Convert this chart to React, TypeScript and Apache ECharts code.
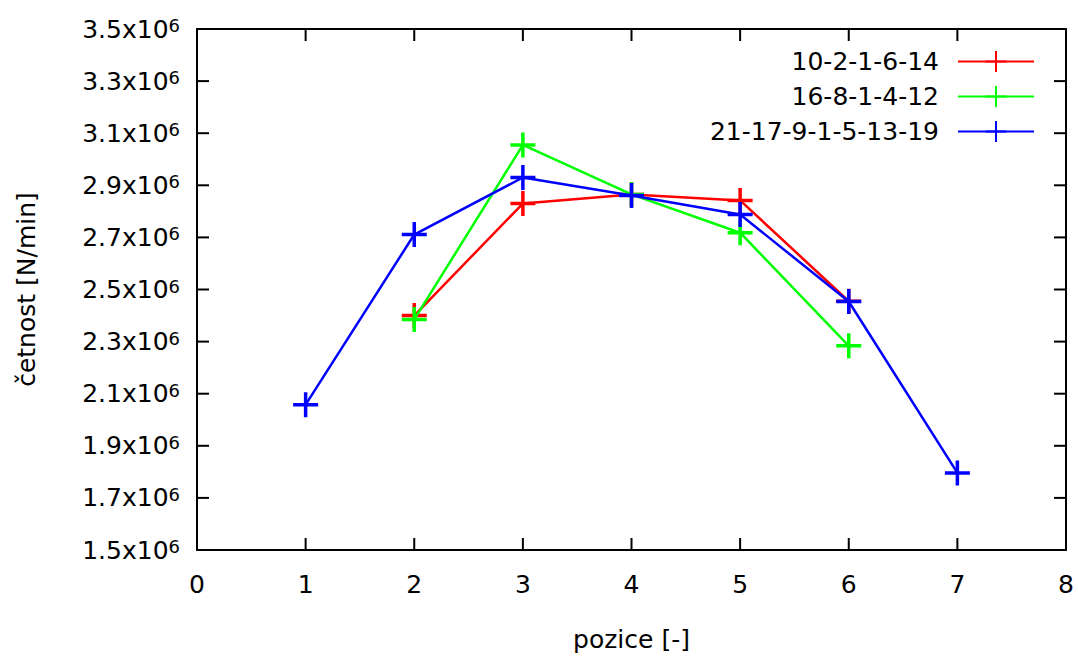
import React, { useEffect, useRef } from "react";
import * as echarts from "echarts";

// Positions along the x axis and measured rates (N/min) for each configuration
const positionsA = [2, 3, 4, 5, 6];
const valuesA = [2.4e6, 2.83e6, 2.865e6, 2.842e6, 2.455e6];

const positionsB = [2, 3, 4, 5, 6];
const valuesB = [2.385e6, 3.055e6, 2.865e6, 2.718e6, 2.284e6];

const positionsC = [1, 2, 3, 4, 5, 6, 7];
const valuesC = [2.058e6, 2.711e6, 2.93e6, 2.861e6, 2.788e6, 2.454e6, 1.796e6];

const seriesNames = ["10-2-1-6-14", "16-8-1-4-12", "21-17-9-1-5-13-19"];
const seriesColors = ["#ff0000", "#00ff00", "#0000ff"];

const xTicks = [0, 1, 2, 3, 4, 5, 6, 7, 8];
const yTicks = [1.5e6, 1.7e6, 1.9e6, 2.1e6, 2.3e6, 2.5e6, 2.7e6, 2.9e6, 3.1e6, 3.3e6, 3.5e6];

const X_MIN = 0;
const X_MAX = 8;
const Y_MIN = 1.5e6;
const Y_MAX = 3.5e6;

const FONT = "DejaVu Sans";
const FS = 25;
const PLUS = "path://M12 0 L12 24 M0 12 L24 12";
const TICK_LEN = 12;

const zip = (xs: number[], ys: number[]) => xs.map((x, i) => [x, ys[i]]);

export default function App() {
  const ref = useRef<HTMLDivElement>(null);

  useEffect(() => {
    if (!ref.current) return;
    const chart = echarts.init(ref.current, undefined, { renderer: "svg" });

    const frameLine = { show: true, onZero: false, lineStyle: { color: "#000", width: 2 } };
    const tickLineStyle = { stroke: "#000", lineWidth: 2 };

    const xBase = { type: "value", min: X_MIN, max: X_MAX, interval: 1, splitLine: { show: false } };
    const yBase = { type: "value", min: Y_MIN, max: Y_MAX, splitLine: { show: false } };

    const data = [zip(positionsA, valuesA), zip(positionsB, valuesB), zip(positionsC, valuesC)];
    const legendTops = [49, 84, 119];

    // inward-pointing tick marks on all four sides of the frame
    const xTickSeries = {
      type: "custom",
      coordinateSystem: "cartesian2d",
      xAxisIndex: 0,
      yAxisIndex: 0,
      silent: true,
      z: 10,
      data: xTicks.map((v) => [v, Y_MIN]),
      renderItem: (_p: any, api: any) => {
        const bottom = api.coord([api.value(0), Y_MIN]);
        const top = api.coord([api.value(0), Y_MAX]);
        return {
          type: "group",
          children: [
            { type: "line", shape: { x1: bottom[0], y1: bottom[1], x2: bottom[0], y2: bottom[1] - TICK_LEN }, style: tickLineStyle },
            { type: "line", shape: { x1: top[0], y1: top[1], x2: top[0], y2: top[1] + TICK_LEN }, style: tickLineStyle },
          ],
        };
      },
    };
    const yTickSeries = {
      type: "custom",
      coordinateSystem: "cartesian2d",
      xAxisIndex: 0,
      yAxisIndex: 0,
      silent: true,
      z: 10,
      data: yTicks.map((v) => [X_MIN, v]),
      renderItem: (_p: any, api: any) => {
        const left = api.coord([X_MIN, api.value(1)]);
        const right = api.coord([X_MAX, api.value(1)]);
        return {
          type: "group",
          children: [
            { type: "line", shape: { x1: left[0], y1: left[1], x2: left[0] + TICK_LEN, y2: left[1] }, style: tickLineStyle },
            { type: "line", shape: { x1: right[0], y1: right[1], x2: right[0] - TICK_LEN, y2: right[1] }, style: tickLineStyle },
          ],
        };
      },
    };

    chart.setOption({
      animation: false,
      backgroundColor: "#fff",
      textStyle: { fontFamily: FONT, color: "#000" },
      grid: { left: 197, right: 12, top: 29, bottom: 106 },
      legend: seriesNames.map((name, i) => ({
        data: [name],
        orient: "vertical",
        right: 43,
        top: legendTops[i],
        align: "right",
        itemWidth: 76,
        itemHeight: 26,
        padding: 0,
        selectedMode: false,
        textStyle: { fontFamily: FONT, fontSize: FS, color: "#000", padding: [0, 14, 0, 0] },
      })),
      xAxis: [
        {
          ...xBase,
          position: "bottom",
          name: "pozice [-]",
          nameLocation: "middle",
          nameGap: 77,
          nameTextStyle: { fontFamily: FONT, fontSize: FS, color: "#000" },
          axisLine: frameLine,
          axisTick: { show: false },
          axisLabel: { fontFamily: FONT, fontSize: FS, color: "#000", margin: 22 },
        },
        {
          ...xBase,
          position: "top",
          axisLine: frameLine,
          axisTick: { show: false },
          axisLabel: { show: false },
        },
      ],
      yAxis: [
        {
          ...yBase,
          position: "left",
          name: "četnost [N/min]",
          nameLocation: "middle",
          nameGap: 158,
          nameTextStyle: { fontFamily: FONT, fontSize: FS, color: "#000" },
          axisLine: frameLine,
          axisTick: { show: false },
          axisLabel: {
            customValues: yTicks,
            margin: 17,
            formatter: (v: number) => `{a|${(v / 1e6).toFixed(1)}x10}{b|6}`,
            rich: {
              a: { fontFamily: FONT, fontSize: FS, color: "#000", verticalAlign: "bottom", lineHeight: 25 },
              b: {
                fontFamily: FONT,
                fontSize: 18,
                color: "#000",
                verticalAlign: "top",
                lineHeight: 18,
                padding: [0, 0, 15, 0],
              },
            },
          },
        },
        {
          ...yBase,
          position: "right",
          axisLine: frameLine,
          axisTick: { show: false },
          axisLabel: { show: false },
        },
      ],
      series: [
        xTickSeries,
        yTickSeries,
        ...seriesNames.map((name, i) => ({
          name,
          type: "line",
          xAxisIndex: 0,
          yAxisIndex: 0,
          data: data[i],
          symbol: PLUS,
          symbolSize: 25,
          showAllSymbol: true,
          lineStyle: { color: seriesColors[i], width: 2.5 },
          itemStyle: { color: seriesColors[i], borderColor: seriesColors[i], borderWidth: 3.5 },
          emphasis: { disabled: true },
          z: 20 + i,
        })),
      ],
    });

    return () => chart.dispose();
  }, []);

  return <div ref={ref} style={{ width: 1078, height: 657, position: "absolute", left: 0, top: 0 }} />;
}
